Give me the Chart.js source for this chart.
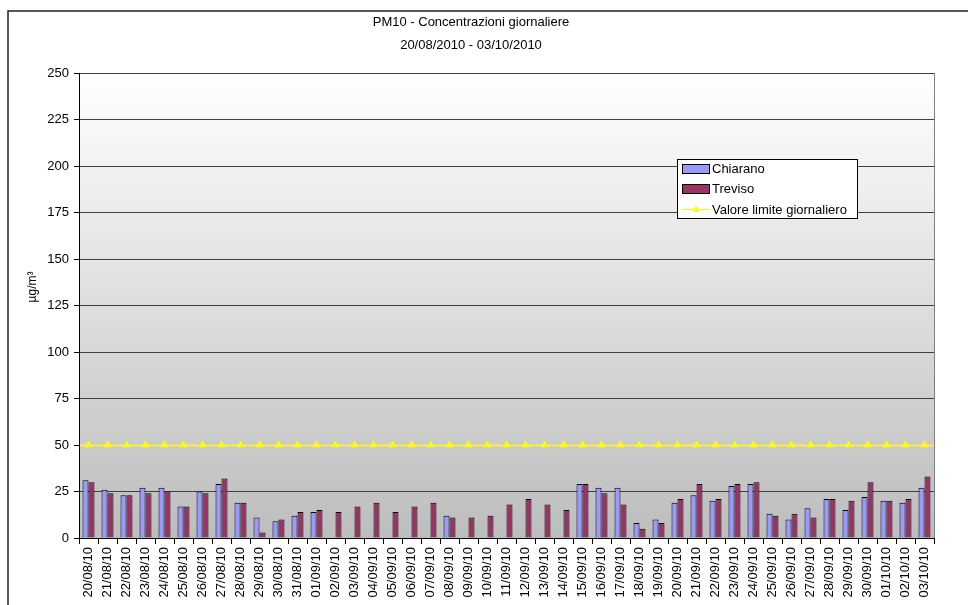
<!DOCTYPE html>
<html>
<head>
<meta charset="utf-8">
<script src="https://cdn.jsdelivr.net/npm/chart.js@4.4.1/dist/chart.umd.min.js"></script>
<style>
  html, body { margin: 0; padding: 0; background: #ffffff; }
  #wrap { width: 968px; height: 605px; position: relative; }
</style>
</head>
<body>
<div id="wrap"><canvas id="c" width="968" height="605"></canvas></div>
<script>
// Daily PM10 concentrations (µg/m³), 20/08/2010 - 03/10/2010
const days = [
  '20/08/10','21/08/10','22/08/10','23/08/10','24/08/10','25/08/10','26/08/10','27/08/10',
  '28/08/10','29/08/10','30/08/10','31/08/10','01/09/10','02/09/10','03/09/10','04/09/10',
  '05/09/10','06/09/10','07/09/10','08/09/10','09/09/10','10/09/10','11/09/10','12/09/10',
  '13/09/10','14/09/10','15/09/10','16/09/10','17/09/10','18/09/10','19/09/10','20/09/10',
  '21/09/10','22/09/10','23/09/10','24/09/10','25/09/10','26/09/10','27/09/10','28/09/10',
  '29/09/10','30/09/10','01/10/10','02/10/10','03/10/10'
];
const chiarano = [
  31, 26, 23, 27, 27, 17, 25, 29, 19, 11, 9, 12, 14, null, null, null,
  null, null, null, 12, null, null, null, null, null, null, 29, 27, 27, 8,
  10, 19, 23, 20, 28, 29, 13, 10, 16, 21, 15, 22, 20, 19, 27
];
const treviso = [
  30, 24, 23, 24, 25, 17, 24, 32, 19, 3, 10, 14, 15, 14, 17, 19,
  14, 17, 19, 11, 11, 12, 18, 21, 18, 15, 29, 24, 18, 5,
  8, 21, 29, 21, 29, 30, 12, 13, 11, 21, 20, 30, 20, 21, 33
];
const limitValue = 50;
const limite = days.map(() => limitValue);
const yTicks = { min: 0, max: 250, step: 25 };

const FONT = '"Liberation Sans", Arial, sans-serif';
const C_CHIARANO = '#9999FF';
const C_TREVISO = '#993366';
const C_LIMIT = '#FFFF00';

// Gradient plot background + frame
const plotBackground = {
  id: 'plotBackground',
  beforeDraw(chart) {
    const { ctx, chartArea: a } = chart;
    ctx.save();
    const g = ctx.createLinearGradient(0, a.top, 0, a.bottom);
    g.addColorStop(0, '#ffffff');
    g.addColorStop(1, '#bdbdbd');
    ctx.fillStyle = g;
    ctx.fillRect(a.left, a.top, a.right - a.left, a.bottom - a.top);
    ctx.restore();
  },
  afterDraw(chart) {
    const { ctx, chartArea: a } = chart;
    ctx.save();
    ctx.strokeStyle = '#808080';
    ctx.lineWidth = 1;
    ctx.beginPath();
    ctx.moveTo(a.right + 0.5, a.top);
    ctx.lineTo(a.right + 0.5, a.bottom);
    ctx.stroke();
    // outer chart frame
    ctx.strokeStyle = '#222222';
    ctx.lineWidth = 1.5;
    ctx.beginPath();
    ctx.moveTo(8, 620);
    ctx.lineTo(8, 11);
    ctx.lineTo(980, 11);
    ctx.stroke();
    ctx.restore();
  }
};

// Horizontal daily limit line across the whole plot
const limitLine = {
  id: 'limitLine',
  afterDatasetsDraw(chart) {
    const { ctx, chartArea: a, scales } = chart;
    const y = Math.round(scales.y.getPixelForValue(limitValue)) + 0.5;
    ctx.save();
    ctx.strokeStyle = C_LIMIT;
    ctx.lineWidth = 1.5;
    ctx.beginPath();
    ctx.moveTo(a.left + 1, y);
    ctx.lineTo(a.right, y);
    ctx.stroke();
    ctx.restore();
  }
};

// Titles and legend box
const annotations = {
  id: 'annotations',
  afterDraw(chart) {
    const { ctx } = chart;
    ctx.save();
    ctx.fillStyle = '#000';
    ctx.textAlign = 'center';
    ctx.textBaseline = 'middle';
    ctx.font = '13px ' + FONT;
    ctx.fillText('PM10 - Concentrazioni giornaliere', 471, 22);
    ctx.fillText('20/08/2010 - 03/10/2010', 471, 45);

    // y axis title
    ctx.save();
    ctx.translate(33, 287);
    ctx.rotate(-Math.PI / 2);
    ctx.font = '12px ' + FONT;
    ctx.fillText('µg/m³', 0, 0);
    ctx.restore();

    // legend
    const lx = 677.5, ly = 159.5, lw = 180, lh = 59;
    ctx.fillStyle = '#ffffff';
    ctx.fillRect(lx, ly, lw, lh);
    ctx.strokeStyle = '#000';
    ctx.lineWidth = 1;
    ctx.strokeRect(lx, ly, lw, lh);
    ctx.font = '13px ' + FONT;
    ctx.textAlign = 'left';
    const rows = [
      { label: 'Chiarano', color: C_CHIARANO, y: 169 },
      { label: 'Treviso', color: C_TREVISO, y: 189 },
    ];
    rows.forEach(r => {
      ctx.fillStyle = r.color;
      ctx.fillRect(682.5, r.y - 4.5, 27, 9);
      ctx.strokeStyle = '#000';
      ctx.strokeRect(682.5, r.y - 4.5, 27, 9);
      ctx.fillStyle = '#000';
      ctx.fillText(r.label, 712, r.y + 0.5);
    });
    const yl = 209.5;
    ctx.strokeStyle = C_LIMIT;
    ctx.beginPath();
    ctx.moveTo(682, yl);
    ctx.lineTo(710, yl);
    ctx.stroke();
    ctx.fillStyle = C_LIMIT;
    ctx.beginPath();
    ctx.moveTo(696, yl - 4);
    ctx.lineTo(699.5, yl + 2.5);
    ctx.lineTo(692.5, yl + 2.5);
    ctx.closePath();
    ctx.fill();
    ctx.fillStyle = '#000';
    ctx.fillText('Valore limite giornaliero', 712, yl + 0.5);
    ctx.restore();
  }
};

new Chart(document.getElementById('c'), {
  data: {
    labels: days,
    datasets: [
      {
        type: 'bar', label: 'Chiarano', data: chiarano,
        backgroundColor: C_CHIARANO, borderColor: '#000', borderWidth: 1,
        categoryPercentage: 0.63, barPercentage: 1, order: 2
      },
      {
        type: 'bar', label: 'Treviso', data: treviso,
        backgroundColor: C_TREVISO, borderColor: '#000', borderWidth: 1,
        categoryPercentage: 0.63, barPercentage: 1, order: 2
      },
      {
        type: 'line', label: 'Valore limite giornaliero', data: limite,
        showLine: false, pointStyle: 'triangle', pointRadius: 4.5,
        pointBackgroundColor: C_LIMIT, pointBorderColor: C_LIMIT, pointBorderWidth: 0,
        borderColor: C_LIMIT, order: 1
      }
    ]
  },
  options: {
    responsive: false,
    animation: false,
    layout: { padding: { top: 73, right: 34, left: 0, bottom: 0 } },
    plugins: { legend: { display: false }, title: { display: false }, tooltip: { enabled: false } },
    scales: {
      x: {
        offset: true,
        grid: { display: true, drawOnChartArea: false, drawTicks: true, tickLength: 6, tickColor: '#000', offset: true },
        border: { display: true, color: '#000', width: 1 },
        ticks: {
          autoSkip: false, minRotation: 90, maxRotation: 90, padding: 3,
          color: '#000', font: { family: FONT, size: 13 }
        },
        afterFit(scale) { scale.height = 67; }
      },
      y: {
        min: yTicks.min, max: yTicks.max,
        grid: { color: '#404040', lineWidth: 1, tickLength: 5, tickColor: '#000' },
        border: { display: true, color: '#000', width: 1 },
        ticks: {
          stepSize: yTicks.step, padding: 5, color: '#000',
          font: { family: FONT, size: 13 }
        },
        afterFit(scale) { scale.width = 79; }
      }
    }
  },
  plugins: [plotBackground, limitLine, annotations]
});
</script>
</body>
</html>
